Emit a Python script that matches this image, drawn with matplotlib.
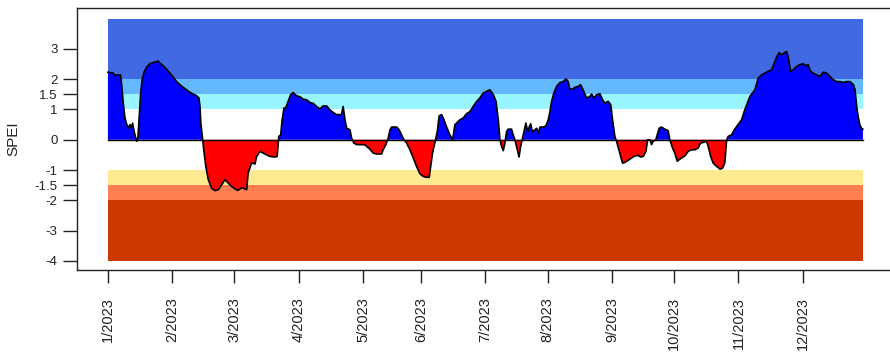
import matplotlib
matplotlib.use("Agg")
import matplotlib.pyplot as plt
import numpy as np

plt.rcParams['font.family'] = ['Liberation Sans', 'DejaVu Sans']

# ---- data (day index from start of series, SPEI value) ----
day = [0, 2.6, 3.4, 4.5, 6.1, 6.7, 7.4, 8.2, 9.0, 9.8, 10.6, 11.4, 11.9, 12.5, 13.2, 13.8,
       14.5, 15.1, 15.8, 16.5, 17.4, 18.7, 20.2, 21.8, 23.5, 24.2, 25.1, 26.7, 28.3, 29.9,
       31.5, 33.1, 34.7, 36.3, 37.9, 39.5, 41.1, 42.8, 43.9, 44.4, 44.8, 45.7, 46.4, 47.2,
       48.4, 50.0, 51.6, 53.2, 54.8, 56.4, 58.0, 59.6, 61.2, 62.7, 64.6, 66.9, 67.6, 69.3,
       70.9, 71.7, 73.3, 74.9, 76.5, 78.1, 80.5, 81.6, 82.4, 83.3, 84.0, 84.9, 85.7, 86.9,
       88.1, 89.3, 91.0, 92.6, 94.2, 95.8, 97.4, 99.0, 100.6, 102.2, 103.8, 105.4, 107.0,
       108.6, 110.3, 112.6, 113.4, 114.3, 115.1, 116.7, 117.5, 118.6, 119.9, 122.3, 123.9,
       126.3, 127.9, 129.5, 131.9, 132.7, 134.0, 135.1, 136.0, 136.8, 139.2, 140.4, 141.6,
       142.7, 144.0, 145.6, 147.2, 148.8, 150.4, 152.0, 153.6, 154.9, 155.6, 156.5, 157.6,
       158.8, 159.7, 160.9, 162.0, 163.3, 164.9, 166.2, 167.3, 168.1, 169.7, 171.3, 172.9,
       174.5, 176.1, 177.8, 179.3, 180.9, 182.6, 184.2, 185.8, 187.1, 188.2, 189.0, 189.8,
       190.6, 191.4, 192.2, 193.0, 194.6, 195.4, 196.2, 197.0, 198.2, 199.0, 199.7, 200.6,
       201.5, 202.4, 203.1, 203.8, 204.6, 205.9, 206.7, 207.5, 208.3, 209.9, 211.2, 212.3,
       213.1, 213.9, 215.0, 216.3, 217.9, 219.5, 220.8, 221.9, 222.7, 224.0, 225.1, 226.7,
       227.9, 229.1, 230.8, 232.4, 233.2, 234.3, 235.6, 237.2, 238.5, 239.6, 241.2, 242.4,
       243.3, 244.4, 245.2, 246.8, 248.1, 249.2, 250.8, 252.5, 254.1, 255.7, 256.8, 258.1,
       259.4, 260.2, 261.3, 262.1, 262.9, 264.2, 264.8, 265.8, 266.9, 268.5, 270.1, 270.9,
       272.2, 273.3, 274.5, 275.4, 276.6, 278.2, 279.8, 281.4, 283.0, 284.6, 285.7, 287.0,
       288.6, 289.4, 290.6, 291.8, 293.5, 295.1, 296.3, 297.4, 298.3, 299.0, 300.6, 302.2,
       303.8, 305.5, 307.1, 309.5, 311.9, 313.5, 315.1, 316.7, 318.3, 320.0, 321.1, 322.4,
       323.6, 324.8, 325.9, 327.2, 328.0, 329.1, 330.4, 332.0, 333.6, 335.2, 336.5, 337.6,
       338.8, 340.0, 341.7, 343.3, 344.9, 346.5, 348.1, 349.7, 351.3, 352.9, 354.5, 356.2,
       357.8, 359.4, 360.2, 361.0, 361.7, 362.5, 363.3, 364.0]
spei = [2.23, 2.20, 2.12, 2.14, 2.14, 1.76, 1.21, 0.72, 0.53, 0.38, 0.50, 0.40, 0.55, 0.33, 0.11, -0.05,
        0.10, 0.77, 1.54, 1.98, 2.23, 2.40, 2.51, 2.55, 2.58, 2.60, 2.53, 2.44, 2.33, 2.20,
        2.07, 1.92, 1.82, 1.73, 1.65, 1.57, 1.51, 1.45, 1.38, 1.10, 0.55, 0.0, -0.44, -0.88,
        -1.32, -1.60, -1.68, -1.65, -1.49, -1.32, -1.43, -1.54, -1.62, -1.67, -1.58, -1.65, -1.10, -0.76,
        -0.80, -0.55, -0.39, -0.44, -0.50, -0.55, -0.57, -0.55, 0.11, 0.16, 0.66, 1.05, 1.05, 1.27,
        1.49, 1.56, 1.45, 1.42, 1.34, 1.32, 1.23, 1.20, 1.10, 1.02, 1.12, 1.12, 0.99,
        0.90, 0.83, 0.83, 1.10, 0.66, 0.38, 0.33, 0.05, -0.11, -0.16, -0.16, -0.17,
        -0.31, -0.44, -0.47, -0.47, -0.33, -0.16, 0.05, 0.33, 0.42, 0.42, 0.33, 0.16,
        0.0, -0.11, -0.33, -0.60, -0.88, -1.12, -1.21, -1.24, -1.24, -0.88, -0.44, -0.11,
        0.27, 0.79, 0.83, 0.66, 0.42, 0.16, 0.0, 0.50, 0.55, 0.66, 0.72, 0.86,
        0.93, 1.10, 1.27, 1.38, 1.54, 1.60, 1.65, 1.49, 1.27, 0.66, 0.0, -0.22,
        -0.36, -0.11, 0.27, 0.35, 0.35, 0.16, 0.0, -0.22, -0.57, -0.22, 0.0, 0.27,
        0.55, 0.27, 0.42, 0.53, 0.27, 0.33, 0.38, 0.22, 0.42, 0.42, 0.46, 0.66,
        0.93, 1.27, 1.54, 1.76, 1.89, 1.92, 2.01, 1.92, 1.67, 1.67, 1.73, 1.76,
        1.82, 1.65, 1.38, 1.43, 1.51, 1.38, 1.49, 1.52, 1.32, 1.21, 1.27, 1.16,
        0.66, 0.11, -0.05, -0.44, -0.77, -0.75, -0.68, -0.60, -0.53, -0.52, -0.57, -0.55,
        -0.38, 0.0, 0.0, -0.16, -0.05, 0.0, 0.16, 0.38, 0.42, 0.35, 0.30, 0.0,
        -0.27, -0.44, -0.71, -0.66, -0.60, -0.53, -0.38, -0.33, -0.33, -0.27, -0.11, -0.09,
        -0.05, -0.22, -0.55, -0.77, -0.88, -0.97, -0.94, -0.77, 0.0, 0.11, 0.16, 0.35,
        0.50, 0.66, 1.00, 1.43, 1.65, 2.03, 2.14, 2.20, 2.26, 2.31, 2.51, 2.73,
        2.88, 2.80, 2.86, 2.91, 2.75, 2.26, 2.31, 2.42, 2.48, 2.51, 2.44, 2.48,
        2.26, 2.20, 2.14, 2.09, 2.23, 2.20, 2.09, 1.98, 1.92, 1.92, 1.89, 1.92,
        1.92, 1.82, 1.65, 1.10, 0.77, 0.50, 0.38, 0.35]

tick_days = [0, 31, 61, 92, 123, 151, 182, 212, 243, 273, 304, 335]
tick_labels = ["1/2023", "2/2023", "3/2023", "4/2023", "5/2023", "6/2023",
               "7/2023", "8/2023", "9/2023", "10/2023", "11/2023", "12/2023"]
y_ticks = [-4, -3, -2, -1.5, -1, 0, 1, 1.5, 2, 3]
y_tick_labels = ["-4", "-3", "-2", "-1.5", "-1", "0", "1", "1.5", "2", "3"]

band_low = [2, 1.5, 1, -1.5, -2, -4]
band_high = [4, 2, 1.5, -1, -1.5, -2]
band_colors = ["#4169E1", "#63B8FF", "#98F5FF", "#FFE991", "#FF7F50", "#CD3700"]

x = np.array(day)
y = np.array(spei)

fig = plt.figure(figsize=(8.9, 3.56), dpi=100)
ax = fig.add_axes([77 / 890, (356 - 270) / 356, (893 - 77) / 890, (270 - 8) / 356])

x0, x1 = x.min(), x.max()
for lo, hi, c in zip(band_low, band_high, band_colors):
    ax.fill_between([x0, x1], [lo, lo], [hi, hi], color=c, linewidth=0, zorder=1)

ax.fill_between(x, y, 0, where=y >= 0, interpolate=True, color="#0000FF", linewidth=0, zorder=2)
ax.fill_between(x, y, 0, where=y <= 0, interpolate=True, color="#FF0000", linewidth=0, zorder=2)
ax.plot(x, y, color="black", linewidth=1.2, zorder=3)
ax.plot([x0, x1], [0, 0], color="black", linewidth=1.0, zorder=3)

ax.set_xlim(-14.9, 378.5)
ax.set_ylim(-4.3, 4.35)

ax.set_xticks(tick_days)
ax.set_xticklabels(tick_labels, rotation=90, fontsize=10.5, color="#222222")
ax.set_yticks(y_ticks)
ax.set_yticklabels(y_tick_labels, fontsize=9.5, color="#222222")
ax.tick_params(axis="x", length=9.5, width=1.0, pad=10, color="#222222")
ax.tick_params(axis="y", length=10, width=1.0, pad=4, color="#222222")
ax.set_ylabel("SPEI", fontsize=11, labelpad=10, color="#222222")

for s in ax.spines.values():
    s.set_linewidth(1.0)
    s.set_color("#222222")

fig.savefig("out.png", dpi=100)
